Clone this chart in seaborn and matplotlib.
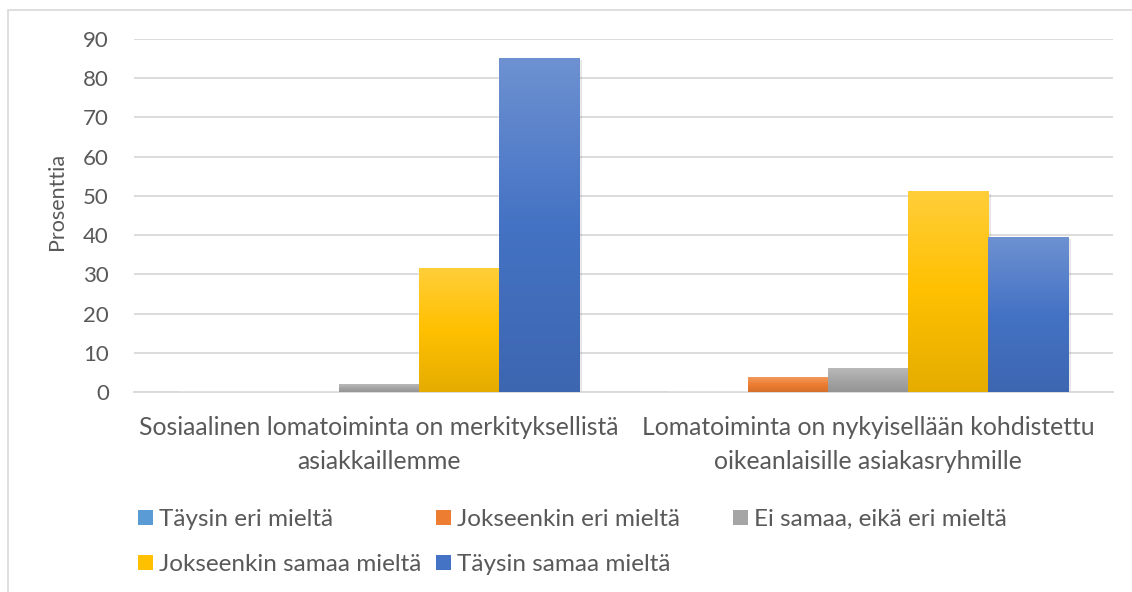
import matplotlib
matplotlib.use("Agg")
import matplotlib.pyplot as plt
import matplotlib.colors as mcolors
from matplotlib.patches import Patch, Rectangle
import numpy as np
import pandas as pd
import seaborn as sns

# ── Data ─────────────────────────────────────────────────────────────────────
kysymykset = [
    "Sosiaalinen lomatoiminta on merkityksellistä\nasiakkaillemme",
    "Lomatoiminta on nykyisellään kohdistettu\noikeanlaisille asiakasryhmille",
]
vastaukset = [
    "Täysin eri mieltä",
    "Jokseenkin eri mieltä",
    "Ei samaa, eikä eri mieltä",
    "Jokseenkin samaa mieltä",
    "Täysin samaa mieltä",
]
arvot_k1 = [0, 0, 2, 31.5, 85]
arvot_k2 = [0, 3.8, 5.9, 51, 39.5]
varit = ["#5B9BD5", "#ED7D31", "#A5A5A5", "#FFC000", "#4472C4"]
y_ticks = [0, 10, 20, 30, 40, 50, 60, 70, 80, 90]

rows = []
for k, arvot in zip(kysymykset, [arvot_k1, arvot_k2]):
    for v, a in zip(vastaukset, arvot):
        rows.append({"kysymys": k, "vastaus": v, "prosentti": a})
df = pd.DataFrame(rows)

# ── Style ────────────────────────────────────────────────────────────────────
sns.set_style("white")
plt.rcParams["font.family"] = ["Lato", "DejaVu Sans"]
TXT = "#595959"
GRID = "#D9D9D9"

fig = plt.figure(figsize=(11.32, 5.92), dpi=100)
ax = fig.add_axes([134 / 1132, 1 - 392 / 592, (1113 - 134) / 1132, 353 / 592])

sns.barplot(data=df, x="kysymys", y="prosentti", hue="vastaus",
            hue_order=vastaukset, palette=varit, width=0.818,
            saturation=1, legend=False, ax=ax, zorder=3)

# gradient fill like the office chart
def _grad(col):
    c = np.array(mcolors.to_rgb(col))
    top = c + (1 - c) * 0.22
    bot = c * 0.9
    t = np.linspace(0, 1, 64)[:, None]
    mid = 0.5
    g = np.where(t < mid, top + (c - top) * (t / mid), c + (bot - c) * ((t - mid) / (1 - mid)))
    return g[:, None, :]

n = len(kysymykset)
for i, p in enumerate(ax.patches):
    h = p.get_height()
    if h <= 0:
        continue
    col = varit[i // n]
    x0, w = p.get_x(), p.get_width()
    # soft shadow
    ax.add_patch(Rectangle((x0 + 0.006, -0.4), w, h, color="#000000",
                           alpha=0.10, lw=0, zorder=2))
    ax.imshow(_grad(col), extent=[x0, x0 + w, 0, h], aspect="auto",
              origin="upper", zorder=3.5, interpolation="bilinear")
    p.set_facecolor("none")

ax.set_xlim(-0.5, 1.5)
ax.set_ylim(0, 90)
ax.set_yticks(y_ticks)
ax.yaxis.grid(True, color=GRID, lw=1.3, zorder=0)
ax.set_axisbelow(True)
for s in ["top", "right", "left"]:
    ax.spines[s].set_visible(False)
ax.spines["bottom"].set_color(GRID)
ax.spines["bottom"].set_linewidth(1.3)
ax.tick_params(axis="both", length=0, colors=TXT)
ax.tick_params(axis="y", labelsize=16, pad=18)
ax.tick_params(axis="x", labelsize=17.8, pad=17)
for lab in ax.get_xticklabels():
    lab.set_linespacing(1.6)
ax.set_xlabel("")
ax.set_ylabel("Prosenttia", fontsize=15.5, color=TXT)
ax.yaxis.set_label_coords((67 - 134) / 979, (392 - 201) / 353)

# legend: three columns of equal width, filled row by row
cols = [[0, 3], [1, 4], [2]]
col_x = [138, 436, 733]
for idx, x in zip(cols, col_x):
    handles = [Patch(facecolor=varit[i], edgecolor="none") for i in idx]
    labels = [vastaukset[i] for i in idx]
    fig.legend(handles, labels, loc="upper left",
               bbox_to_anchor=(x / 1132, 1 - 509 / 592),
               frameon=False, fontsize=17.5, labelcolor=TXT,
               borderpad=0, borderaxespad=0,
               handlelength=0.6, handleheight=0.6, handletextpad=0.25,
               labelspacing=1.0)

# chart border
fig.patches.append(Rectangle((8 / 1132, -0.01), 1.02, 1 - 10 / 592 + 0.01,
                             transform=fig.transFigure, fill=False,
                             edgecolor=GRID, lw=1.2))

fig.savefig("out.png", dpi=100, facecolor="white")
